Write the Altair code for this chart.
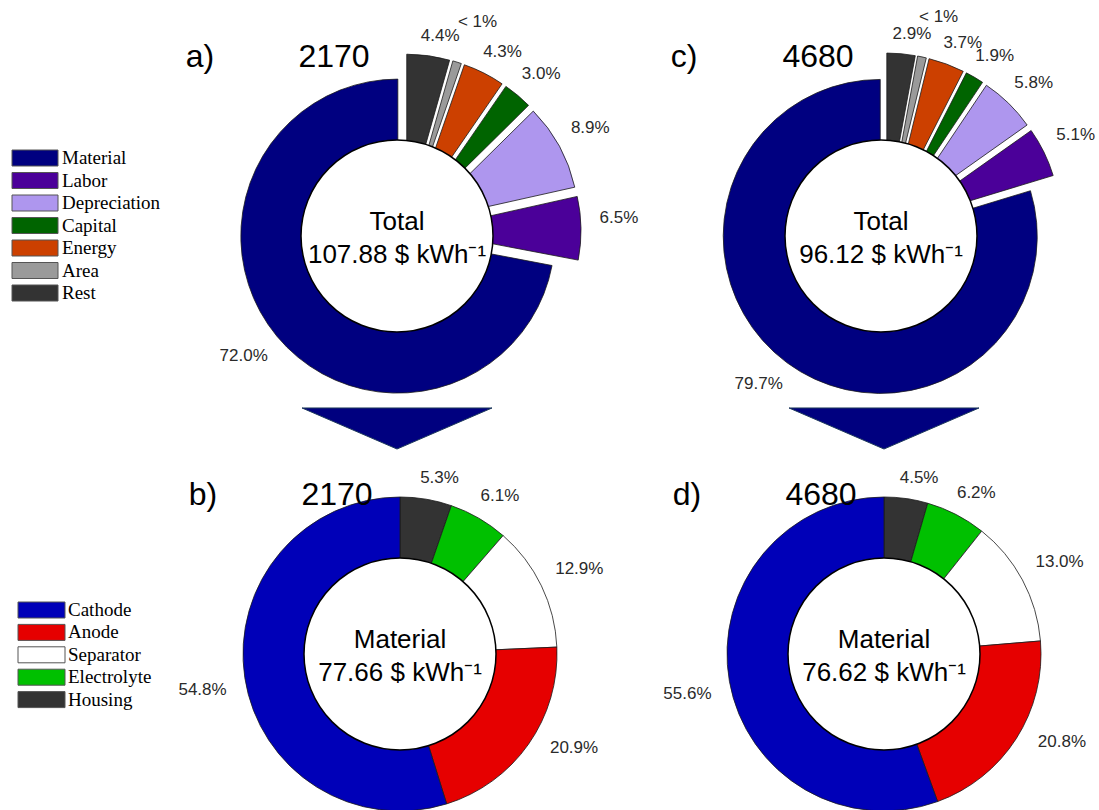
import math
import altair as alt
import pandas as pd

# ---------------- data ----------------
# cost breakdown, listed clockwise from 12 o'clock
cost_names = ["Rest", "Area", "Energy", "Capital", "Depreciation", "Labor", "Material"]
cost_2170 = [4.4, 0.9, 4.3, 3.0, 8.9, 6.5, 72.0]
cost_4680 = [2.9, 0.9, 3.7, 1.9, 5.8, 5.1, 79.7]
cost_colors = ["#333333", "#9a9a9a", "#CC4000", "#006400", "#AE96EE", "#4B0099", "#000080"]

# material breakdown, listed clockwise from 12 o'clock
mat_names = ["Housing", "Electrolyte", "Separator", "Anode", "Cathode"]
mat_2170 = [5.3, 6.1, 12.9, 20.9, 54.8]
mat_4680 = [4.5, 6.2, 13.0, 20.8, 55.6]
mat_colors = ["#333333", "#00C000", "#FFFFFF", "#E60000", "#0000B8"]

panel_ids = ["a", "b", "c", "d"]
panel_letters = ["a)", "b)", "c)", "d)"]
panel_cells = ["2170", "2170", "4680", "4680"]
panel_heads = ["Total", "Material", "Total", "Material"]
panel_totals = [107.88, 77.66, 96.12, 76.62]

# ---------------- layout / style ----------------
W, H = 1099, 810
pie_centers = {"a": (404, 231), "b": (400, 654), "c": (885, 230), "d": (884, 654)}
hole_centers = {"a": (397, 236), "b": (400, 654), "c": (881, 236), "d": (884, 654)}
title_base = {"a": 67, "b": 505, "c": 67, "d": 505}
R_OUT, R_IN = 157, 96
EXPLODE_SMALL, EXPLODE_MAIN = 20, 8
LABEL_GAP_TOP, LABEL_GAP_MAIN, LABEL_GAP_BOTTOM, TINY_BOOST = 19, 20, 20, 20
LABEL_TILT = 3 * math.pi / 180
SANS = "Liberation Sans"
SERIF = "Liberation Serif"

all_names = cost_names + mat_names
all_colors = cost_colors + mat_colors
color_scale = alt.Scale(domain=all_names, range=all_colors)

# ---------------- wedge table ----------------
rows = []
series = {"a": (cost_names, cost_2170), "c": (cost_names, cost_4680),
          "b": (mat_names, mat_2170), "d": (mat_names, mat_4680)}
for pid, (names, vals) in series.items():
    cx, cy = pie_centers[pid]
    top = pid in ("a", "c")
    for i, (n, v) in enumerate(zip(names, vals)):
        if top:
            ex = EXPLODE_MAIN if n == "Material" else EXPLODE_SMALL
            gap = LABEL_GAP_MAIN if n == "Material" else LABEL_GAP_TOP
        else:
            ex, gap = 0, LABEL_GAP_BOTTOM
        lab_r = R_OUT + ex + gap + (TINY_BOOST if v < 1 else 0)
        rows.append(dict(panel=pid, name=n, value=v, order=i, cx=cx, cy=cy,
                         explode=ex, lab_r=lab_r))
wedges = pd.DataFrame(rows)

base = (
    alt.Chart(wedges)
    .transform_joinaggregate(total="sum(value)", groupby=["panel"])
    .transform_window(cum="sum(value)", sort=[alt.SortField("order")], groupby=["panel"])
    .transform_calculate(t0="2*PI*(datum.cum-datum.value)/datum.total",
                         t1="2*PI*datum.cum/datum.total")
    .transform_calculate(mid="(datum.t0+datum.t1)/2")
    .transform_calculate(la=f"datum.mid - {LABEL_TILT}")
    .transform_calculate(px="datum.cx + datum.explode*sin(datum.mid)",
                         py="datum.cy - datum.explode*cos(datum.mid)",
                         lx="datum.cx + datum.lab_r*sin(datum.la)",
                         ly="datum.cy - datum.lab_r*cos(datum.la)",
                         lab="datum.value < 1 ? '< 1%' : format(datum.value, '.1f') + '%'")
)

arcs = base.mark_arc(outerRadius=R_OUT, innerRadius=0, stroke="#1a1a1a", strokeWidth=0.8).encode(
    x=alt.X("px:Q", scale=None, axis=None),
    y=alt.Y("py:Q", scale=None, axis=None),
    theta=alt.Theta("t0:Q", scale=None),
    theta2="t1:Q",
    color=alt.Color("name:N", scale=color_scale, legend=None),
)

pct_enc = dict(
    x=alt.X("lx:Q", scale=None, axis=None),
    y=alt.Y("ly:Q", scale=None, axis=None),
    text="lab:N",
)
pct_right = base.transform_filter("sin(datum.la) >= 0").mark_text(
    font=SANS, fontSize=17, color="#2a2a2a", align="left", baseline="middle").encode(**pct_enc)
pct_left = base.transform_filter("sin(datum.la) < 0").mark_text(
    font=SANS, fontSize=17, color="#2a2a2a", align="right", baseline="middle").encode(**pct_enc)

# ---------------- panel table ----------------
panels = pd.DataFrame(dict(
    panel=panel_ids, letter=panel_letters, cell=panel_cells, head=panel_heads,
    total=panel_totals,
    cx=[hole_centers[p][0] for p in panel_ids], cy=[hole_centers[p][1] for p in panel_ids],
    ty=[title_base[p] for p in panel_ids],
))
pbase = alt.Chart(panels).transform_calculate(
    tot="format(datum.total, '.2f') + ' $ kWh\u207b\u00b9'",
    lx="datum.cx - 197", nx="datum.cx - 63",
)

hole = pbase.mark_arc(outerRadius=R_IN, innerRadius=0, theta=0, theta2=2 * math.pi,
                      fill="white", stroke="black", strokeWidth=1.5).encode(
    x=alt.X("cx:Q", scale=None, axis=None), y=alt.Y("cy:Q", scale=None, axis=None))

head_txt = pbase.mark_text(font=SANS, fontSize=26, color="black", baseline="alphabetic", dy=-6).encode(
    x=alt.X("cx:Q", scale=None, axis=None), y=alt.Y("cy:Q", scale=None, axis=None), text="head:N")
tot_txt = pbase.mark_text(font=SANS, fontSize=26, color="black", baseline="alphabetic", dy=27).encode(
    x=alt.X("cx:Q", scale=None, axis=None), y=alt.Y("cy:Q", scale=None, axis=None), text="tot:N")

letter_txt = pbase.mark_text(font=SANS, fontSize=32, color="black", baseline="alphabetic").encode(
    x=alt.X("lx:Q", scale=None, axis=None), y=alt.Y("ty:Q", scale=None, axis=None), text="letter:N")
cell_txt = pbase.mark_text(font=SANS, fontSize=32, color="black", baseline="alphabetic").encode(
    x=alt.X("nx:Q", scale=None, axis=None), y=alt.Y("ty:Q", scale=None, axis=None), text="cell:N")

# ---------------- arrows ----------------
arrows = pd.DataFrame(dict(ax=[397, 884], ay=[428.5, 428.5]))
arrow = alt.Chart(arrows).mark_point(
    shape="M-1,-0.216L1,-0.216L0,0.216Z", size=190 * 190, filled=True, opacity=1,
    fill="#00007F", stroke="#1E3A5C", strokeWidth=1,
).encode(x=alt.X("ax:Q", scale=None, axis=None), y=alt.Y("ay:Q", scale=None, axis=None))

# ---------------- legends ----------------
leg_rows = []
for i, n in enumerate(cost_names[::-1]):
    yc = 158 + 22.5 * i
    leg_rows.append(dict(name=n, x0=12, x1=58, y0=yc - 8, y1=yc + 8, yc=yc, tx=62))
for i, n in enumerate(mat_names[::-1]):
    yc = 610 + 22.4 * i
    leg_rows.append(dict(name=n, x0=18, x1=65, y0=yc - 8, y1=yc + 8, yc=yc, tx=68))
leg = pd.DataFrame(leg_rows)

leg_box = alt.Chart(leg).mark_rect(stroke="#555555", strokeWidth=1).encode(
    x=alt.X("x0:Q", scale=None, axis=None), x2="x1:Q",
    y=alt.Y("y0:Q", scale=None, axis=None), y2="y1:Q",
    color=alt.Color("name:N", scale=color_scale, legend=None),
)
leg_txt = alt.Chart(leg).mark_text(font=SERIF, fontSize=19, color="black", align="left",
                                   baseline="middle").encode(
    x=alt.X("tx:Q", scale=None, axis=None), y=alt.Y("yc:Q", scale=None, axis=None), text="name:N")

chart = alt.layer(
    arcs, hole, pct_right, pct_left, head_txt, tot_txt, letter_txt, cell_txt, arrow, leg_box, leg_txt
).properties(
    width=W, height=H, padding=0, autosize=alt.AutoSizeParams(type="none"), background="white"
).configure_view(strokeWidth=0)

chart.save("out.html", embed_options={"renderer": "svg", "actions": False})
